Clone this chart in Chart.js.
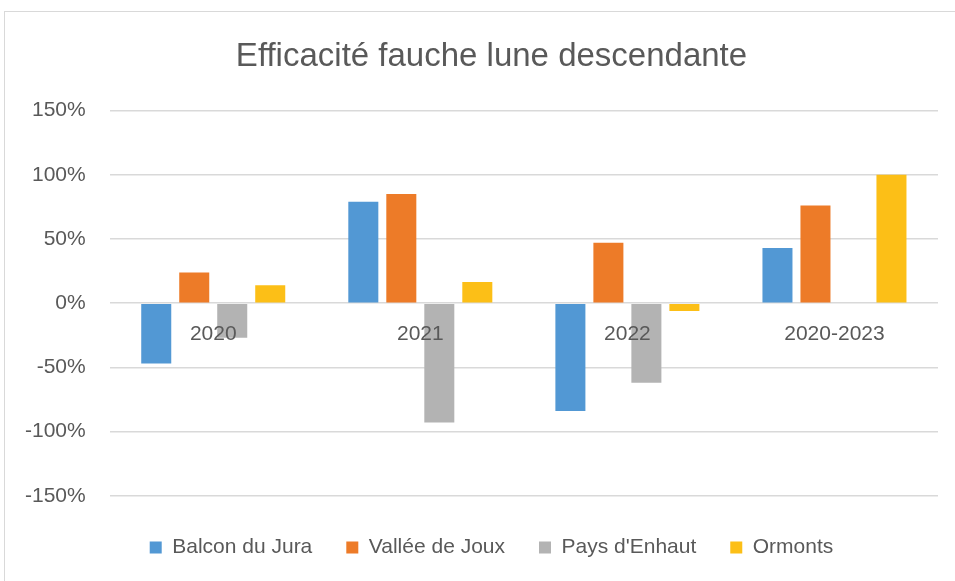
<!DOCTYPE html>
<html>
<head>
<meta charset="utf-8">
<script src="https://cdn.jsdelivr.net/npm/chart.js@4.4.1/dist/chart.umd.min.js"></script>
<style>
  html, body { margin: 0; padding: 0; background: #fff; }
  .wrap { position: relative; width: 955px; height: 581px; overflow: hidden; }
  .frame { position: absolute; left: 4px; top: 11px; width: 1000px; height: 700px; border: 1px solid #d9d9d9; box-sizing: border-box; }
  canvas { position: absolute; left: 0; top: 0; }
</style>
</head>
<body>
<div class="wrap">
  <div class="frame"></div>
  <canvas id="chart" width="1000" height="581"></canvas>
</div>
<script>
const categories = ['2020', '2021', '2022', '2020-2023'];
const balconDuJura = [-0.47, 0.79, -0.84, 0.43];
const valleeDeJoux = [0.24, 0.85, 0.47, 0.76];
const paysDEnhaut = [-0.27, -0.93, -0.62, 0];
const ormonts = [0.14, 0.165, -0.06, 1.0];
const yTicks = [-1.5, -1, -0.5, 0, 0.5, 1, 1.5];

const textColor = '#595959';
const fontFamily = "'Liberation Sans', Arial, sans-serif";

new Chart(document.getElementById('chart').getContext('2d'), {
  type: 'bar',
  data: {
    labels: categories,
    datasets: [
      { label: 'Balcon du Jura', data: balconDuJura, backgroundColor: '#5298d4' },
      { label: 'Vallée de Joux', data: valleeDeJoux, backgroundColor: '#ed7b28' },
      { label: "Pays d'Enhaut", data: paysDEnhaut, backgroundColor: '#b3b3b3' },
      { label: 'Ormonts', data: ormonts, backgroundColor: '#fcbf17' }
    ]
  },
  options: {
    responsive: false,
    animation: false,
    categoryPercentage: 0.734,
    barPercentage: 0.79,
    layout: { padding: { left: 1, right: 18, top: 12, bottom: 13 } },
    plugins: {
      title: {
        display: true,
        text: 'Efficacité fauche lune descendante',
        color: textColor,
        font: { family: fontFamily, size: 33, weight: 'normal' },
        padding: { top: 25, bottom: 34 }
      },
      legend: {
        position: 'bottom',
        title: { display: true, text: ' ', font: { size: 1 }, padding: 3 },
        labels: {
          color: textColor,
          font: { family: fontFamily, size: 21 },
          boxWidth: 12,
          boxHeight: 12,
          padding: 34
        }
      },
      tooltip: { enabled: false }
    },
    scales: {
      x: {
        position: { y: 0 },
        grid: { display: false },
        border: { display: false },
        ticks: {
          z: 1,
          color: textColor,
          font: { family: fontFamily, size: 21 },
          padding: 10
        }
      },
      y: {
        min: -1.5,
        max: 1.5,
        afterBuildTicks: axis => { axis.ticks = yTicks.map(v => ({ value: v })); },
        grid: { color: '#d9d9d9', lineWidth: 1.5, drawTicks: false },
        border: { display: false },
        ticks: {
          color: textColor,
          font: { family: fontFamily, size: 21 },
          padding: 24,
          callback: v => Math.round(v * 100) + '%'
        }
      },
      spacer: {
        type: 'linear',
        position: 'right',
        grid: { display: false },
        border: { display: false },
        ticks: { display: false },
        afterFit: axis => { axis.width = 44; }
      }
    }
  }
});
</script>
</body>
</html>
